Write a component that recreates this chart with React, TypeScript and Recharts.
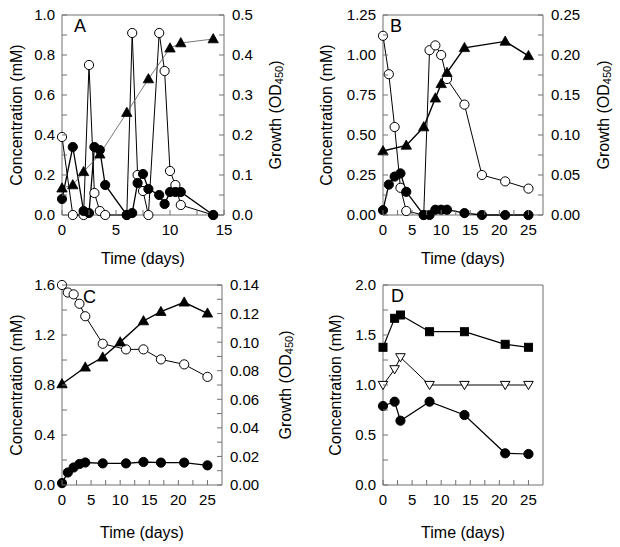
import React from 'react';
import { LineChart, Line, XAxis, YAxis, ReferenceArea } from 'recharts';

const FONT = '"Liberation Sans", Arial, Helvetica, sans-serif';
const FRAME = '#707070';

// ---------- Panel A ----------
const A_OPEN_DAYS = [0, 1, 2, 2.5, 3, 3.5, 4, 6, 6.5, 7, 7.5, 8, 9, 9.5, 10, 10.5, 11, 14];
const A_OPEN_MM = [0.39, 0, 0, 0.75, 0.11, 0.02, 0, 0, 0.91, 0.2, 0.12, 0, 0.91, 0.72, 0.22, 0.15, 0.05, 0];
const A_FILLED_DAYS = [0, 1, 2, 2.5, 3, 3.5, 4, 6, 6.5, 7, 7.5, 8, 9, 9.5, 10, 10.5, 11, 14];
const A_FILLED_MM = [0.08, 0.34, 0.02, 0.01, 0.34, 0.325, 0.15, 0, 0.01, 0.16, 0.205, 0.13, 0.1, 0.055, 0.115, 0.115, 0.115, 0];
const A_GROWTH_DAYS = [0, 1, 2, 3.5, 6, 8, 10, 11, 14];
const A_GROWTH_OD = [0.067, 0.075, 0.108, 0.152, 0.256, 0.34, 0.417, 0.43, 0.44];
const A_X_TICKS = [0, 2.5, 5, 7.5, 10, 12.5, 15];
const A_LEFT_TICKS = [0, 0.1, 0.2, 0.3, 0.4, 0.5, 0.6, 0.7, 0.8, 0.9, 1.0];
const A_RIGHT_TICKS = [0, 0.05, 0.1, 0.15, 0.2, 0.25, 0.3, 0.35, 0.4, 0.45, 0.5];

// ---------- Panel B ----------
const B_OPEN_DAYS = [0, 1, 2, 3, 4, 7, 8, 9, 10, 11, 14, 17, 21, 25];
const B_OPEN_MM = [1.12, 0.88, 0.55, 0.17, 0.025, 0, 1.03, 1.06, 1.0, 0.85, 0.69, 0.25, 0.21, 0.165];
const B_FILLED_DAYS = [0, 1, 2, 3, 4, 7, 8, 9, 10, 11, 14, 17, 21, 25];
const B_FILLED_MM = [0.03, 0.19, 0.24, 0.26, 0.145, 0, 0, 0.033, 0.033, 0.033, 0.012, 0, 0, 0];
const B_GROWTH_DAYS = [0, 4, 7, 9, 10, 11, 14, 21, 25];
const B_GROWTH_OD = [0.08, 0.087, 0.11, 0.146, 0.164, 0.178, 0.209, 0.217, 0.199];
const B_X_TICKS = [0, 2.5, 5, 7.5, 10, 12.5, 15, 17.5, 20, 22.5, 25];
const B_LEFT_TICKS = [0, 0.125, 0.25, 0.375, 0.5, 0.625, 0.75, 0.875, 1.0, 1.125, 1.25];
const B_RIGHT_TICKS = [0, 0.025, 0.05, 0.075, 0.1, 0.125, 0.15, 0.175, 0.2, 0.225, 0.25];

// ---------- Panel C ----------
const C_DAYS = [0, 1, 2, 3, 4, 7, 11, 14, 17, 21, 25];
const C_OPEN_MM = [1.6, 1.54, 1.525, 1.45, 1.35, 1.13, 1.085, 1.085, 1.005, 0.965, 0.865];
const C_FILLED_MM = [0.015, 0.1, 0.14, 0.168, 0.18, 0.173, 0.173, 0.184, 0.179, 0.179, 0.157];
const C_GROWTH_DAYS = [0, 4, 7, 10, 14, 17, 21, 25];
const C_GROWTH_OD = [0.0707, 0.0824, 0.0894, 0.1, 0.1148, 0.1213, 0.1279, 0.1202];
const C_X_TICKS = [0, 2.5, 5, 7.5, 10, 12.5, 15, 17.5, 20, 22.5, 25];
const C_LEFT_TICKS = [0, 0.2, 0.4, 0.6, 0.8, 1.0, 1.2, 1.4, 1.6];
const C_RIGHT_TICKS = [0, 0.01, 0.02, 0.03, 0.04, 0.05, 0.06, 0.07, 0.08, 0.09, 0.1, 0.11, 0.12, 0.13, 0.14];

// ---------- Panel D ----------
const D_DAYS = [0, 2, 3, 8, 14, 21, 25];
const D_SQUARE_MM = [1.377, 1.667, 1.7, 1.533, 1.533, 1.407, 1.377];
const D_TRIANGLE_MM = [1.0, 1.157, 1.277, 1.0, 1.0, 1.0, 1.0];
const D_CIRCLE_MM = [0.79, 0.833, 0.643, 0.833, 0.7, 0.317, 0.31];
const D_X_TICKS = [0, 2.5, 5, 7.5, 10, 12.5, 15, 17.5, 20, 22.5, 25];
const D_LEFT_TICKS = [0, 0.25, 0.5, 0.75, 1.0, 1.25, 1.5, 1.75, 2.0];

const pts = (xs: number[], ys: number[]) => xs.map((x, i) => ({ x, y: ys[i] }));

const isMajor = (v: number, step: number) => {
  const r = v / step;
  return Math.abs(r - Math.round(r)) < 1e-6;
};

type Kind = 'open' | 'filled' | 'tri' | 'square' | 'invtri';

function Marker({ cx, cy, kind }: { cx: number; cy: number; kind: Kind }) {
  if (cx == null || cy == null || isNaN(cx) || isNaN(cy)) return <g />;
  if (kind === 'open')
    return <circle cx={cx} cy={cy} r={4.6} fill="#fff" stroke="#000" strokeWidth={1} />;
  if (kind === 'filled')
    return <circle cx={cx} cy={cy} r={4.6} fill="#000" stroke="#000" strokeWidth={1} />;
  if (kind === 'square')
    return <rect x={cx - 4} y={cy - 4} width={8} height={8} fill="#000" stroke="#000" strokeWidth={1} />;
  if (kind === 'invtri')
    return (
      <polygon
        points={`${cx - 4.8},${cy - 3.6} ${cx + 4.8},${cy - 3.6} ${cx},${cy + 4.6}`}
        fill="#fff"
        stroke="#000"
        strokeWidth={1}
      />
    );
  return (
    <polygon
      points={`${cx},${cy - 5.4} ${cx - 5.2},${cy + 3.8} ${cx + 5.2},${cy + 3.8}`}
      fill="#000"
      stroke="#000"
      strokeWidth={0.8}
    />
  );
}

type AxisSpec = { domain: [number, number]; ticks: number[]; step: number; digits: number };
type SeriesSpec = {
  id: string;
  data: { x: number; y: number }[];
  axis: 'left' | 'right';
  kind: Kind;
  stroke: string;
  width: number;
};

type PanelProps = {
  left: number;
  top: number;
  width: number;
  height: number;
  plotL: number;
  plotR: number;
  plotT: number;
  plotB: number;
  xDomain: [number, number];
  xTicks: number[];
  xStep: number;
  yLeft: AxisSpec;
  yRight?: AxisSpec;
  series: SeriesSpec[];
};

function Panel(p: PanelProps) {
  const xTick = (t: any) => {
    const v = t.payload.value;
    return (
      <g>
        <line x1={t.x} x2={t.x} y1={p.plotB} y2={p.plotB - 5} stroke={FRAME} strokeWidth={1} />
        {isMajor(v, p.xStep) && (
          <text x={t.x} y={p.plotB + 15} dy="0.36em" textAnchor="middle" fontSize={15} fontFamily={FONT} fill="#000">
            {String(v)}
          </text>
        )}
      </g>
    );
  };
  const yTick = (side: 'left' | 'right', spec: AxisSpec) => (t: any) => {
    const v = t.payload.value;
    const ax = side === 'left' ? p.plotL : p.plotR;
    const dir = side === 'left' ? 1 : -1;
    return (
      <g>
        <line x1={ax} x2={ax + dir * 5} y1={t.y} y2={t.y} stroke={FRAME} strokeWidth={1} />
        {isMajor(v, spec.step) && (
          <text
            x={side === 'left' ? ax - 7 : ax + 8}
            y={t.y}
            dy="0.36em"
            textAnchor={side === 'left' ? 'end' : 'start'}
            fontSize={15}
            fontFamily={FONT}
            fill="#000"
          >
            {v.toFixed(spec.digits)}
          </text>
        )}
      </g>
    );
  };

  return (
    <div style={{ position: 'absolute', left: p.left, top: p.top, width: p.width, height: p.height }}>
      <LineChart
        width={p.width}
        height={p.height}
        margin={{ top: p.plotT, right: p.yRight ? 0 : p.width - p.plotR, bottom: 0, left: 0 }}
      >
        <XAxis
          xAxisId="x"
          dataKey="x"
          type="number"
          domain={p.xDomain}
          ticks={p.xTicks}
          interval={0}
          height={p.height - p.plotB}
          axisLine={false}
          tickLine={false}
          tick={xTick}
        />
        <YAxis
          yAxisId="left"
          type="number"
          domain={p.yLeft.domain}
          ticks={p.yLeft.ticks}
          interval={0}
          width={p.plotL}
          axisLine={false}
          tickLine={false}
          tick={yTick('left', p.yLeft)}
        />
        {p.yRight ? (
          <YAxis
            yAxisId="right"
            orientation="right"
            type="number"
            domain={p.yRight.domain}
            ticks={p.yRight.ticks}
            interval={0}
            width={p.width - p.plotR}
            axisLine={false}
            tickLine={false}
            tick={yTick('right', p.yRight)}
          />
        ) : null}
        <ReferenceArea
          xAxisId="x"
          yAxisId="left"
          x1={p.xDomain[0]}
          x2={p.xDomain[1]}
          y1={p.yLeft.domain[0]}
          y2={p.yLeft.domain[1]}
          fill="none"
          fillOpacity={0}
          stroke={FRAME}
          strokeWidth={1}
          ifOverflow="visible"
        />
        {p.series.map((s) => (
          <Line
            key={s.id}
            xAxisId="x"
            yAxisId={s.axis}
            data={s.data}
            dataKey="y"
            type="linear"
            stroke={s.stroke}
            strokeWidth={s.width}
            dot={(d: any) => <Marker key={`${s.id}-${d.index}`} cx={d.cx} cy={d.cy} kind={s.kind} />}
            activeDot={false}
            isAnimationActive={false}
          />
        ))}
      </LineChart>
    </div>
  );
}

function VLabel({ x, y, children }: { x: number; y: number; children: React.ReactNode }) {
  return (
    <text
      transform={`translate(${x},${y}) rotate(-90)`}
      textAnchor="middle"
      dominantBaseline="central"
      fontSize={16}
      fontFamily={FONT}
      fill="#000"
    >
      {children}
    </text>
  );
}

function Growth() {
  return (
    <>
      Growth (OD
      <tspan fontSize={11} dy={4}>
        450
      </tspan>
      <tspan dy={-4}>)</tspan>
    </>
  );
}

export default function App() {
  return (
    <div style={{ position: 'absolute', left: 0, top: 0, width: 620, height: 547, background: '#fff', overflow: 'hidden' }}>
      <Panel
        left={0}
        top={0}
        width={310}
        height={273}
        plotL={62}
        plotR={224}
        plotT={15}
        plotB={215}
        xDomain={[0, 15]}
        xTicks={A_X_TICKS}
        xStep={5}
        yLeft={{ domain: [0, 1], ticks: A_LEFT_TICKS, step: 0.2, digits: 1 }}
        yRight={{ domain: [0, 0.5], ticks: A_RIGHT_TICKS, step: 0.1, digits: 1 }}
        series={[
          { id: 'aOpen', data: pts(A_OPEN_DAYS, A_OPEN_MM), axis: 'left', kind: 'open', stroke: '#000', width: 1 },
          { id: 'aFilled', data: pts(A_FILLED_DAYS, A_FILLED_MM), axis: 'left', kind: 'filled', stroke: '#000', width: 1.3 },
          { id: 'aGrowth', data: pts(A_GROWTH_DAYS, A_GROWTH_OD), axis: 'right', kind: 'tri', stroke: '#555', width: 0.8 },
        ]}
      />
      <Panel
        left={310}
        top={0}
        width={310}
        height={273}
        plotL={73}
        plotR={233}
        plotT={15}
        plotB={215}
        xDomain={[0, 27.5]}
        xTicks={B_X_TICKS}
        xStep={5}
        yLeft={{ domain: [0, 1.25], ticks: B_LEFT_TICKS, step: 0.25, digits: 2 }}
        yRight={{ domain: [0, 0.25], ticks: B_RIGHT_TICKS, step: 0.05, digits: 2 }}
        series={[
          { id: 'bOpen', data: pts(B_OPEN_DAYS, B_OPEN_MM), axis: 'left', kind: 'open', stroke: '#000', width: 1 },
          { id: 'bFilled', data: pts(B_FILLED_DAYS, B_FILLED_MM), axis: 'left', kind: 'filled', stroke: '#000', width: 1.3 },
          { id: 'bGrowth', data: pts(B_GROWTH_DAYS, B_GROWTH_OD), axis: 'right', kind: 'tri', stroke: '#000', width: 1.4 },
        ]}
      />
      <Panel
        left={0}
        top={270}
        width={310}
        height={277}
        plotL={62}
        plotR={222}
        plotT={15}
        plotB={215}
        xDomain={[0, 27.5]}
        xTicks={C_X_TICKS}
        xStep={5}
        yLeft={{ domain: [0, 1.6], ticks: C_LEFT_TICKS, step: 0.4, digits: 1 }}
        yRight={{ domain: [0, 0.14], ticks: C_RIGHT_TICKS, step: 0.02, digits: 2 }}
        series={[
          { id: 'cOpen', data: pts(C_DAYS, C_OPEN_MM), axis: 'left', kind: 'open', stroke: '#000', width: 1 },
          { id: 'cFilled', data: pts(C_DAYS, C_FILLED_MM), axis: 'left', kind: 'filled', stroke: '#000', width: 1.3 },
          { id: 'cGrowth', data: pts(C_GROWTH_DAYS, C_GROWTH_OD), axis: 'right', kind: 'tri', stroke: '#000', width: 1.4 },
        ]}
      />
      <Panel
        left={310}
        top={270}
        width={310}
        height={277}
        plotL={73}
        plotR={233}
        plotT={15}
        plotB={215}
        xDomain={[0, 27.5]}
        xTicks={D_X_TICKS}
        xStep={5}
        yLeft={{ domain: [0, 2], ticks: D_LEFT_TICKS, step: 0.5, digits: 1 }}
        series={[
          { id: 'dSquare', data: pts(D_DAYS, D_SQUARE_MM), axis: 'left', kind: 'square', stroke: '#000', width: 1.2 },
          { id: 'dTri', data: pts(D_DAYS, D_TRIANGLE_MM), axis: 'left', kind: 'invtri', stroke: '#000', width: 1 },
          { id: 'dCircle', data: pts(D_DAYS, D_CIRCLE_MM), axis: 'left', kind: 'filled', stroke: '#000', width: 1.2 },
        ]}
      />
      <svg
        width={620}
        height={547}
        style={{ position: 'absolute', left: 0, top: 0, pointerEvents: 'none' }}
      >
        {/* Panel letters */}
        <text x={74} y={32} fontSize={18} fontFamily={FONT} fill="#000">A</text>
        <text x={390} y={32} fontSize={18} fontFamily={FONT} fill="#000">B</text>
        <text x={83} y={303} fontSize={18} fontFamily={FONT} fill="#000">C</text>
        <text x={391} y={302} fontSize={18} fontFamily={FONT} fill="#000">D</text>
        {/* Axis titles */}
        <VLabel x={16} y={115}>Concentration (mM)</VLabel>
        <VLabel x={275} y={115}><Growth /></VLabel>
        <VLabel x={326} y={115}>Concentration (mM)</VLabel>
        <VLabel x={603} y={115}><Growth /></VLabel>
        <VLabel x={16} y={385}>Concentration (mM)</VLabel>
        <VLabel x={285} y={385}><Growth /></VLabel>
        <VLabel x={335} y={385}>Concentration (mM)</VLabel>
        <text x={143} y={258} dy="0.36em" textAnchor="middle" fontSize={16} fontFamily={FONT} fill="#000">Time (days)</text>
        <text x={463} y={258} dy="0.36em" textAnchor="middle" fontSize={16} fontFamily={FONT} fill="#000">Time (days)</text>
        <text x={142} y={532} dy="0.36em" textAnchor="middle" fontSize={16} fontFamily={FONT} fill="#000">Time (days)</text>
        <text x={463} y={532} dy="0.36em" textAnchor="middle" fontSize={16} fontFamily={FONT} fill="#000">Time (days)</text>
      </svg>
    </div>
  );
}
